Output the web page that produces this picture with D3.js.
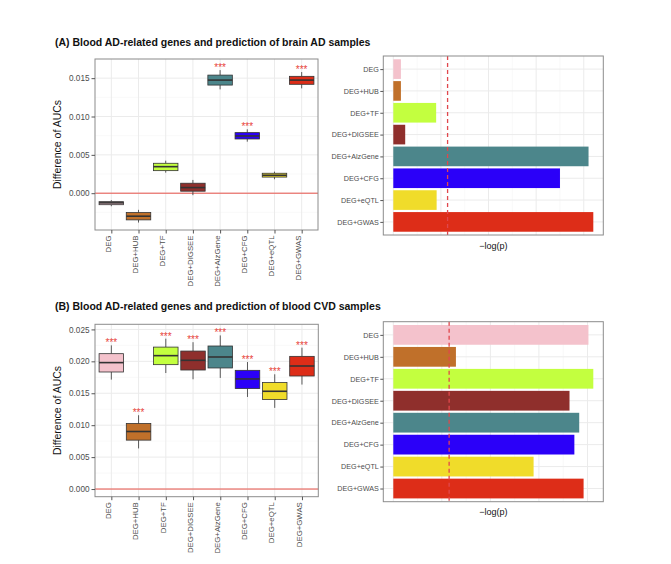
<!DOCTYPE html>
<html>
<head>
<meta charset="utf-8">
<script src="https://cdn.jsdelivr.net/npm/d3@7"></script>
<style>
  html, body { margin: 0; padding: 0; background: #fff; }
  svg { display: block; font-family: "Liberation Sans", Arial, sans-serif; }
</style>
</head>
<body>
<svg id="chart" width="671" height="564"></svg>
<script>
// ---------- data ----------
const categories = ["DEG", "DEG+HUB", "DEG+TF", "DEG+DIGSEE", "DEG+AlzGene", "DEG+CFG", "DEG+eQTL", "DEG+GWAS"];
const fillColors = ["#F4C2CC", "#C0702A", "#C3FF3F", "#8F2F2C", "#4C868B", "#2B00F8", "#F0DC2A", "#DD2D18"];

// Panel A boxplots (difference of AUCs)
const aWhiskerLow  = [-0.0017, -0.00383, 0.00268, -0.00026, 0.01354, 0.00672, 0.00182, 0.01367];
const aQ1          = [-0.0015, -0.00348, 0.00294,  0.00026, 0.0141,  0.00707, 0.0021,  0.0142];
const aMedian      = [-0.00126,-0.0030,  0.00346,  0.00073, 0.01475, 0.00746, 0.00234, 0.01475];
const aQ3          = [-0.0011, -0.00253, 0.0039,   0.0013,  0.0154,  0.0079,  0.0026,  0.01524];
const aWhiskerHigh = [-0.0009, -0.00217, 0.00424,  0.00173, 0.01605, 0.00833, 0.00281, 0.0158];
const aStars       = ["", "", "", "", "***", "***", "", "***"];
const aYTicks      = [0, 0.005, 0.010, 0.015];
const aYDomain     = [-0.0048, 0.0175];
// Panel A bars (-log(p))
const aLogP        = [0.16, 0.16, 0.90, 0.25, 4.10, 3.50, 0.91, 4.20];
const aThreshold   = 1.14;

// Panel B boxplots
const bWhiskerLow  = [0.01714, 0.00636, 0.01817, 0.01719, 0.01740, 0.01442, 0.01271, 0.01636];
const bQ1          = [0.01833, 0.00766, 0.01948, 0.01864, 0.01896, 0.01573, 0.01401, 0.01770];
const bMedian      = [0.0198,  0.00901, 0.02089, 0.02016, 0.02068, 0.01724, 0.01531, 0.01927];
const bQ3          = [0.0212,  0.01027, 0.02223, 0.02161, 0.0224,  0.01859, 0.01667, 0.02078];
const bWhiskerHigh = [0.0225,  0.01156, 0.02355, 0.0230,  0.02406, 0.01989, 0.01797, 0.02214];
const bStars       = ["***", "***", "***", "***", "***", "***", "***", "***"];
const bYTicks      = [0, 0.005, 0.010, 0.015, 0.020, 0.025];
const bYDomain     = [-0.0012, 0.0258];
// Panel B bars
const bLogP        = [4.02, 1.29, 4.12, 3.63, 3.83, 3.73, 2.89, 3.92];
const bThreshold   = 1.15;

const titles = [
  "(A) Blood AD-related genes and prediction of brain AD samples",
  "(B) Blood AD-related genes and prediction of blood CVD samples"
];

// ---------- drawing ----------
const svg = d3.select("#chart");
const GRID_MAJOR = "#ebebeb", GRID_MINOR = "#f5f5f5", BORDER = "#8c8c8c", TICK = "#555", TXT = "#4d4d4d";

function boxPanel(g, box, stats, yTicks, yDomain, stars) {
  const {x0, x1, y0, y1} = box;
  const x = d3.scalePoint().domain(categories).range([x0, x1]).padding(0.6);
  const y = d3.scaleLinear().domain(yDomain).range([y1, y0]);
  const step = x.step();
  const bw = step * 0.9;

  const p = g.append("g");
  const minor = [];
  for (let i = 0; i < yTicks.length - 1; i++) minor.push((yTicks[i] + yTicks[i + 1]) / 2);
  const stepT = yTicks[1] - yTicks[0];
  minor.push(yTicks[0] - stepT / 2, yTicks[yTicks.length - 1] + stepT / 2);
  p.selectAll(".ymin").data(minor.filter(v => v > yDomain[0] && v < yDomain[1])).join("line")
    .attr("x1", x0).attr("x2", x1).attr("y1", d => y(d)).attr("y2", d => y(d))
    .attr("stroke", GRID_MINOR).attr("stroke-width", 0.6);
  p.selectAll(".ymaj").data(yTicks).join("line")
    .attr("x1", x0).attr("x2", x1).attr("y1", d => y(d)).attr("y2", d => y(d))
    .attr("stroke", GRID_MAJOR).attr("stroke-width", 1);
  p.selectAll(".xmaj").data(categories).join("line")
    .attr("x1", d => x(d)).attr("x2", d => x(d)).attr("y1", y0).attr("y2", y1)
    .attr("stroke", GRID_MAJOR).attr("stroke-width", 1);

  p.append("line").attr("x1", x0).attr("x2", x1).attr("y1", y(0)).attr("y2", y(0))
    .attr("stroke", "#E8534A").attr("stroke-width", 1);

  const data = categories.map((c, i) => ({
    c, i, lo: stats.low[i], q1: stats.q1[i], med: stats.med[i], q3: stats.q3[i], hi: stats.high[i]
  }));
  const bg = p.selectAll(".box").data(data).join("g");
  bg.append("line").attr("x1", d => x(d.c)).attr("x2", d => x(d.c))
    .attr("y1", d => y(d.hi)).attr("y2", d => y(d.q3)).attr("stroke", "#333").attr("stroke-width", 0.8);
  bg.append("line").attr("x1", d => x(d.c)).attr("x2", d => x(d.c))
    .attr("y1", d => y(d.q1)).attr("y2", d => y(d.lo)).attr("stroke", "#333").attr("stroke-width", 0.8);
  bg.append("rect").attr("x", d => x(d.c) - bw / 2).attr("width", bw)
    .attr("y", d => y(d.q3)).attr("height", d => y(d.q1) - y(d.q3))
    .attr("fill", d => fillColors[d.i]).attr("stroke", "#333").attr("stroke-width", 0.8);
  bg.append("line").attr("x1", d => x(d.c) - bw / 2).attr("x2", d => x(d.c) + bw / 2)
    .attr("y1", d => y(d.med)).attr("y2", d => y(d.med)).attr("stroke", "#333").attr("stroke-width", 1.6);

  p.selectAll(".star").data(data.filter(d => stars[d.i])).join("text")
    .attr("x", d => x(d.c)).attr("y", d => y(d.hi) + 1)
    .attr("text-anchor", "middle").attr("font-size", 10).attr("fill", "#E8443A")
    .text(d => stars[d.i]);

  p.append("rect").attr("x", x0).attr("y", y0).attr("width", x1 - x0).attr("height", y1 - y0)
    .attr("fill", "none").attr("stroke", BORDER).attr("stroke-width", 1);

  const ya = g.append("g").attr("transform", `translate(${x0},0)`)
    .call(d3.axisLeft(y).tickValues(yTicks).tickFormat(d3.format(".3f")).tickSize(3.5).tickPadding(2));
  ya.select(".domain").remove();
  ya.selectAll("line").attr("stroke", TICK);
  ya.selectAll("text").attr("font-size", 8.2).attr("fill", TXT).attr("font-family", "Liberation Sans, Arial, sans-serif");

  const xa = g.append("g").attr("transform", `translate(0,${y1})`)
    .call(d3.axisBottom(x).tickSize(3.5).tickPadding(2));
  xa.select(".domain").remove();
  xa.selectAll("line").attr("stroke", TICK);
  xa.selectAll("text").attr("font-size", 7.8).attr("fill", TXT)
    .attr("font-family", "Liberation Sans, Arial, sans-serif")
    .attr("text-anchor", "end").attr("dy", null)
    .attr("transform", "translate(-2.8,5.5) rotate(-90)")
    .attr("dominant-baseline", "middle").attr("x", 0).attr("y", 0);

  g.append("text").attr("transform", `translate(${x0 - 34},${(y0 + y1) / 2}) rotate(-90)`)
    .attr("text-anchor", "middle").attr("font-size", 10.5).attr("fill", "#111")
    .text("Difference of AUCs");
}

function barPanel(g, box, values, threshold) {
  const {x0, x1, y0, y1} = box;
  const maxV = d3.max(values);
  const x = d3.scaleLinear().domain([-0.05 * maxV, maxV * 1.05]).range([x0, x1]);
  const y = d3.scalePoint().domain(categories).range([y0, y1]).padding(0.6);
  const bh = y.step() * 0.9;
  const p = g.append("g");

  const majors = d3.range(0, Math.floor(maxV * 1.05) + 1, 1);
  const minors = d3.range(0.5, maxV * 1.05, 1);
  p.selectAll(".xmin").data(minors).join("line")
    .attr("x1", d => x(d)).attr("x2", d => x(d)).attr("y1", y0).attr("y2", y1)
    .attr("stroke", GRID_MINOR).attr("stroke-width", 0.6);
  p.selectAll(".xmaj").data(majors).join("line")
    .attr("x1", d => x(d)).attr("x2", d => x(d)).attr("y1", y0).attr("y2", y1)
    .attr("stroke", GRID_MAJOR).attr("stroke-width", 1);
  p.selectAll(".ymaj").data(categories).join("line")
    .attr("x1", x0).attr("x2", x1).attr("y1", d => y(d)).attr("y2", d => y(d))
    .attr("stroke", GRID_MAJOR).attr("stroke-width", 1);

  p.selectAll(".bar").data(categories).join("rect")
    .attr("x", x(0)).attr("width", (d, i) => x(values[i]) - x(0))
    .attr("y", d => y(d) - bh / 2).attr("height", bh)
    .attr("fill", (d, i) => fillColors[i]);

  p.append("line").attr("x1", x(threshold)).attr("x2", x(threshold)).attr("y1", y0).attr("y2", y1)
    .attr("stroke", "#E0474C").attr("stroke-width", 1.3).attr("stroke-dasharray", "4,3");

  p.append("rect").attr("x", x0).attr("y", y0).attr("width", x1 - x0).attr("height", y1 - y0)
    .attr("fill", "none").attr("stroke", BORDER).attr("stroke-width", 1);

  const ya = g.append("g").attr("transform", `translate(${x0},0)`)
    .call(d3.axisLeft(y).tickSize(3).tickPadding(1.5));
  ya.select(".domain").remove();
  ya.selectAll("line").attr("stroke", TICK);
  ya.selectAll("text").attr("font-size", 7.2).attr("fill", TXT).attr("font-family", "Liberation Sans, Arial, sans-serif");

  g.append("text").attr("x", (x0 + x1) / 2).attr("y", y1 + 13.5)
    .attr("text-anchor", "middle").attr("font-size", 9).attr("fill", "#111")
    .text("\u2212log(p)");
}

svg.append("text").attr("x", 55).attr("y", 45.5).attr("font-size", 10.5).attr("font-weight", "bold")
  .attr("fill", "#111").text(titles[0]);
svg.append("text").attr("x", 55).attr("y", 309.5).attr("font-size", 10.5).attr("font-weight", "bold")
  .attr("fill", "#111").text(titles[1]);

boxPanel(svg.append("g"), {x0: 95, x1: 318, y0: 59, y1: 230},
  {low: aWhiskerLow, q1: aQ1, med: aMedian, q3: aQ3, high: aWhiskerHigh}, aYTicks, aYDomain, aStars);
barPanel(svg.append("g"), {x0: 383.3, x1: 603.3, y0: 56, y1: 235}, aLogP, aThreshold);

boxPanel(svg.append("g"), {x0: 95, x1: 318.3, y0: 324.3, y1: 496.7},
  {low: bWhiskerLow, q1: bQ1, med: bMedian, q3: bQ3, high: bWhiskerHigh}, bYTicks, bYDomain, bStars);
barPanel(svg.append("g"), {x0: 383.3, x1: 603.3, y0: 321.7, y1: 501.7}, bLogP, bThreshold);
</script>
</body>
</html>
